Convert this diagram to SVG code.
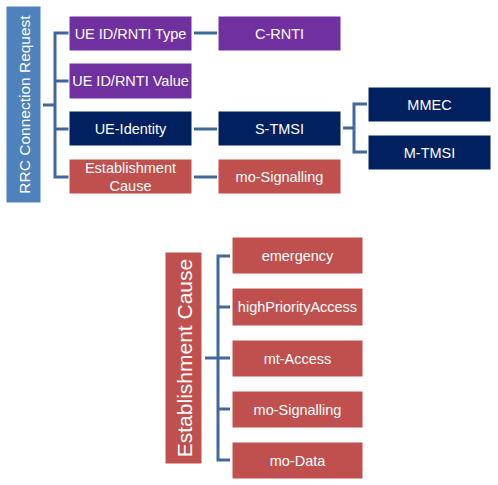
<svg xmlns="http://www.w3.org/2000/svg" width="498" height="485" viewBox="0 0 498 485">
<style>
text{font-family:"Liberation Sans",Arial,sans-serif;fill:#fff;text-anchor:middle;dominant-baseline:central}
.n rect{stroke:#fff;stroke-width:1}
.p{fill:#7030A0}.d{fill:#002060}.r{fill:#C0504D}.b{fill:#4F81BD}
.t{font-size:14.5px}
#conn path{fill:none;stroke:#41689C;stroke-width:3}
</style>
<rect width="498" height="485" fill="#fff"/>
<g id="conn">
<path d="M43 105H55M69 33H55V177H69M55 81H69M55 129H69"/>
<path d="M194 33H217M194 129H217M194 177H217"/>
<path d="M343 128H354M367 104H354V152H367"/>
<path d="M205 358H218M230 256H218V460H230M218 307H230M218 358H230M218 409H230"/>
</g>
<g id="rrc" class="n"><rect class="b" x="6" y="6" width="35" height="197" stroke="none"/><text transform="translate(24 104.5) rotate(-90)" font-size="15.5">RRC Connection Request</text></g>
<g id="uetype" class="n"><rect class="p" x="69" y="16" width="123" height="35"/><text class="t" x="130.5" y="33.5">UE ID/RNTI Type</text></g>
<g id="uevalue" class="n"><rect class="p" x="69" y="63" width="123" height="36"/><text class="t" x="130.5" y="81">UE ID/RNTI Value</text></g>
<g id="ueid" class="n"><rect class="d" x="69" y="111" width="123" height="35"/><text class="t" x="130.5" y="128.5">UE-Identity</text></g>
<g id="estc" class="n"><rect class="r" x="69" y="159" width="123" height="35"/><text class="t" x="130.5" y="167.5">Establishment</text><text class="t" x="130.5" y="185.5">Cause</text></g>
<g id="crnti" class="n"><rect class="p" x="218" y="16" width="123" height="35"/><text class="t" x="279.5" y="33.5">C-RNTI</text></g>
<g id="stmsi" class="n"><rect class="d" x="218" y="111" width="123" height="35"/><text class="t" x="279.5" y="128.5">S-TMSI</text></g>
<g id="mosig1" class="n"><rect class="r" x="218" y="159" width="123" height="35"/><text class="t" x="279.5" y="176.5">mo-Signalling</text></g>
<g id="mmec" class="n"><rect class="d" x="368" y="87" width="123" height="35"/><text class="t" x="429.5" y="104.5">MMEC</text></g>
<g id="mtmsi" class="n"><rect class="d" x="368" y="135" width="123" height="35"/><text class="t" x="429.5" y="152.5">M-TMSI</text></g>
<g id="estc2" class="n"><rect class="r" x="165" y="252" width="37" height="212" stroke="none"/><text transform="translate(184 358) rotate(-90)" font-size="21">Establishment Cause</text></g>
<g id="emerg" class="n"><rect class="r" x="232" y="237" width="131" height="37"/><text class="t" x="297.5" y="255.5">emergency</text></g>
<g id="hpa" class="n"><rect class="r" x="232" y="288" width="131" height="38"/><text class="t" x="297.5" y="307">highPriorityAccess</text></g>
<g id="mta" class="n"><rect class="r" x="232" y="340" width="131" height="37"/><text class="t" x="297.5" y="358.5">mt-Access</text></g>
<g id="mosig2" class="n"><rect class="r" x="232" y="391" width="131" height="37"/><text class="t" x="297.5" y="409.5">mo-Signalling</text></g>
<g id="modata" class="n"><rect class="r" x="232" y="442" width="131" height="37"/><text class="t" x="297.5" y="460.5">mo-Data</text></g>
</svg>
